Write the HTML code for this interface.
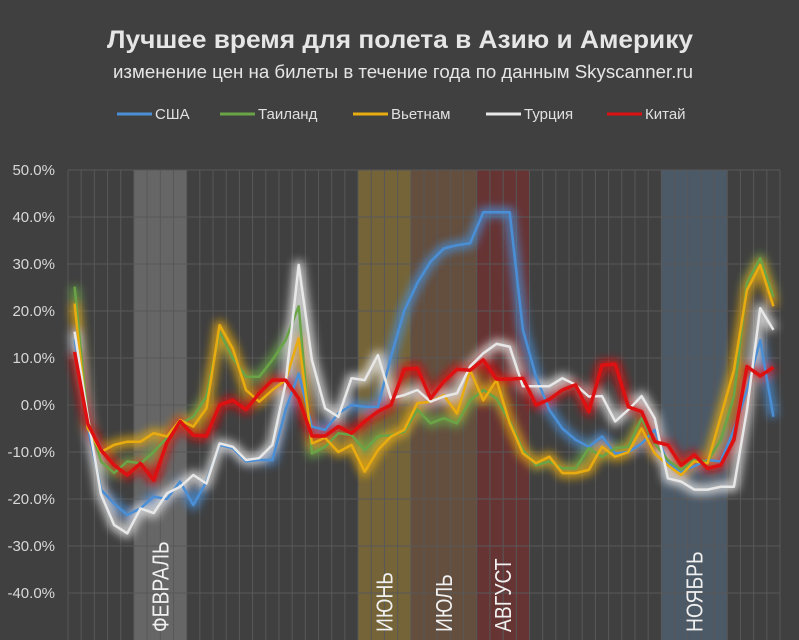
<!DOCTYPE html>
<html><head><meta charset="utf-8"><style>
html,body{margin:0;padding:0;background:#404040;}
svg{display:block;font-family:"Liberation Sans","DejaVu Sans",sans-serif;}
</style></head><body>
<svg id="chart" width="799" height="640" viewBox="0 0 799 640">
<defs>
<filter id="glow" x="-10%" y="-10%" width="120%" height="120%"><feGaussianBlur stdDeviation="4.5"/></filter>
</defs>
<rect width="799" height="640" fill="#404040"/>
<text x="400" y="48" text-anchor="middle" font-size="25" font-weight="bold" fill="#e6e6e6" textLength="586" lengthAdjust="spacingAndGlyphs">Лучшее время для полета в Азию и Америку</text>
<text x="403" y="78" text-anchor="middle" font-size="18" fill="#e6e6e6" textLength="580" lengthAdjust="spacingAndGlyphs">изменение цен на билеты в течение года по данным Skyscanner.ru</text>
<g id="bands"></g>
<g id="grid"></g>
<g id="glows" filter="url(#glow)" opacity="0.8"></g>
<g id="lines"></g>
<g id="bandlabels"></g>
<g id="legend"></g>
<g id="yaxis"></g>
</svg>
<script>
const NS="http://www.w3.org/2000/svg";
const seriesNames=["США","Таиланд","Вьетнам","Турция","Китай"];
const seriesColors=["#4a8fd6","#6aa447","#e8ab10","#e8e8e8","#dd1111"];
const usa=[14,-4.6,-18,-21,-23.4,-22,-19.5,-20,-16.3,-21.3,-16.3,-8.5,-9.2,-12,-11.7,-11.7,-1,6.7,-4.6,-5.3,-1.8,0,-0.4,-0.4,10.3,20,26,30.5,33.3,34,34.4,41,41,41,16,6,-1,-5,-7.4,-8.9,-6.7,-10.3,-10,-8.2,-5.3,-12.4,-14.2,-13,-11.7,-12,-5.3,3.2,13.8,-2.5];
const thailand=[25.2,-3,-12,-14.5,-12,-12.4,-10,-7,-4,-2.5,1.8,15.6,10,6,6,9.6,13.8,21,-10.3,-8.9,-6,-6.4,-9.6,-6.7,-6.4,-5.7,-1,-3.9,-2.8,-3.9,1,3.2,1.4,-3.5,-9.6,-12.8,-12,-13.5,-13.5,-9.2,-11,-9.2,-8.9,-2.8,-8.2,-11.7,-13.8,-11.7,-12,-7.4,1.8,26,31.2,23];
const vietnam=[21.6,-5,-10,-8.5,-7.8,-7.8,-6,-6.7,-3.2,-4.6,-0.7,17,12,3.2,0.7,3.2,5.3,14.2,-8.2,-7,-10,-8.5,-14.2,-9.6,-6.7,-5.3,0.4,0.7,2.1,-1.8,7.4,1,5.3,-3.9,-10.3,-12.4,-11,-14.5,-14.5,-13.8,-8.9,-11,-10,-5,-10.3,-12.8,-14.9,-12,-12.4,-2.5,7.4,24.5,29.8,21];
const turkey=[15.6,-2.5,-19,-25.5,-27.3,-22,-23,-18.8,-17.4,-14.9,-16.7,-8.2,-8.9,-11.7,-11.3,-8.5,4.6,29.8,9.6,-0.7,-2.5,5.7,5.3,10.6,1.4,2.1,3.2,0.7,1.8,2.5,8.2,11,13,12.4,4,4,4,5.7,4.3,1.8,1.9,-3.5,-1,1.9,-2.8,-15.6,-16.3,-18,-18,-17.4,-17.4,-1,20.6,16];
const china=[11.3,-4,-9.6,-12.8,-14.9,-12.4,-16,-8,-3.5,-6.4,-6.6,0,1,-1,2.5,5.3,5.3,1.4,-6.6,-6.6,-4.6,-6,-3.5,-1.4,0,7.6,7.8,1.4,5,7.6,7.4,9.6,5.5,5.5,5.7,0,1.2,3.2,4.3,-1.4,8.5,8.7,-0.4,-1.4,-7.8,-8.5,-12.8,-10.6,-13.5,-12.8,-7.4,8.2,6.2,8];
const allSeries=[usa,thailand,vietnam,turkey,china];
const yTicks=[50,40,30,20,10,0,-10,-20,-30,-40];
const bandNames=["ФЕВРАЛЬ","ИЮНЬ","ИЮЛЬ","АВГУСТ","НОЯБРЬ"];
const bandStart=[5,22,26,31,45];
const bandEnd=[9,26,31,35,50];
const bandColors=["rgba(255,255,255,0.2)","rgba(160,130,50,0.55)","rgba(130,90,60,0.55)","rgba(130,45,45,0.6)","rgba(90,120,150,0.45)"];

const N=usa.length;
const pLeft=68,pRight=780,pTop=170,pBottom=640;
const colW=(pRight-pLeft)/N;
const xs=i=>pLeft+colW*(i+0.5);
const colX=i=>pLeft+colW*i;
const ys=v=>405-v*4.7;
function mk(t,a,p){const e=document.createElementNS(NS,t);for(const k in a)e.setAttribute(k,a[k]);p.appendChild(e);return e;}
const gBands=document.getElementById('bands'),gGrid=document.getElementById('grid'),gGlows=document.getElementById('glows'),gLines=document.getElementById('lines'),gBl=document.getElementById('bandlabels'),gLeg=document.getElementById('legend'),gYa=document.getElementById('yaxis');

bandNames.forEach((nm,k)=>{
  const r=mk('rect',{x:colX(bandStart[k]),y:pTop,width:colX(bandEnd[k])-colX(bandStart[k]),height:pBottom-pTop,fill:bandColors[k]},gBands);
  
  
  const cx=(colX(bandStart[k])+colX(bandEnd[k]))/2;
  const t=mk('text',{x:0,y:0,transform:`translate(${cx+8},632) rotate(-90) scale(0.92,1.08)`,'font-size':21,fill:'#f0f0f0'},gBl);
  t.textContent=nm;
  
  
});
for(let i=0;i<=N;i++){
  const l=mk('line',{x1:colX(i),x2:colX(i),y1:pTop,y2:pBottom,stroke:'#585858','stroke-width':1},gGrid);
  
  
}
yTicks.forEach(v=>{
  const l=mk('line',{x1:pLeft,x2:pRight,y1:ys(v),y2:ys(v),stroke:'#585858','stroke-width':1},gGrid);
  
  
  const t=mk('text',{x:55,y:ys(v)+5,'text-anchor':'end','font-size':15,fill:'#d8d8d8'},gYa);
  t.textContent=v.toFixed(1)+'%';
  
  
});
allSeries.forEach((s,k)=>{
  const d=s.map((v,i)=>(i?'L':'M')+xs(i).toFixed(1)+','+ys(v).toFixed(1)).join('');
  const g=mk('path',{d:d,fill:'none',stroke:seriesColors[k],'stroke-width':10,'stroke-linejoin':'round'},gGlows);
  
  
  const p=mk('path',{d:d,fill:'none',stroke:seriesColors[k],'stroke-width':k==4?3.5:2.5,'stroke-linejoin':'round'},gLines);
  
  
});
const legX=[117,220,353,486,607];
seriesNames.forEach((nm,k)=>{
  const l=mk('line',{x1:legX[k],x2:legX[k]+35,y1:114,y2:114,stroke:seriesColors[k],'stroke-width':3},gLeg);
  
  
  const t=mk('text',{x:legX[k]+38,y:119,'font-size':15,fill:'#e0e0e0'},gLeg);
  t.textContent=nm;
  
  
});
</script>
</body></html>
